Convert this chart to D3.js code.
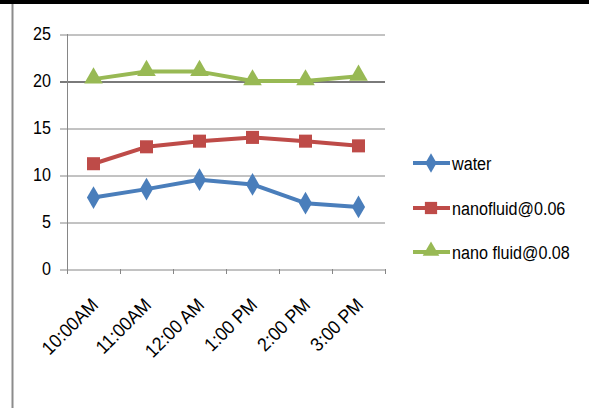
<!DOCTYPE html>
<html>
<head>
<meta charset="utf-8">
<script src="https://cdn.jsdelivr.net/npm/d3@7"></script>
<style>
  html, body { margin: 0; padding: 0; background: #fff; }
  svg { display: block; }
  text { font-family: "Liberation Sans", Arial, sans-serif; fill: #000; }
</style>
</head>
<body>
<svg id="chart" width="589" height="408"></svg>
<script>
// Time of day readings
const categories = ["10:00AM", "11:00AM", "12:00 AM", "1:00 PM", "2:00 PM", "3:00 PM"];
const water = [7.6, 8.5, 9.5, 9.0, 7.0, 6.6];
const nanofluid006 = [11.2, 13.0, 13.6, 14.0, 13.6, 13.1];
const nanofluid008 = [20.2, 21.0, 21.0, 20.0, 20.0, 20.5];
const yTicks = [0, 5, 10, 15, 20, 25];

const seriesNames = ["water", "nanofluid@0.06", "nano fluid@0.08"];
const seriesColors = ["#4a7ebb", "#be4b48", "#98b954"];
const seriesShapes = [d3.symbolDiamond, d3.symbolSquare, d3.symbolTriangle];
const seriesValues = [water, nanofluid006, nanofluid008];

const svg = d3.select("#chart");

// frame: black band on top, grey rule down the left side
svg.append("rect").attr("x", 0).attr("y", 0).attr("width", 589).attr("height", 4).attr("fill", "#000");
svg.append("line").attr("x1", 12.5).attr("x2", 12.5).attr("y1", 4).attr("y2", 408)
  .attr("stroke", "#8c8c8c").attr("stroke-width", 2);

const plot = { left: 67, right: 385, top: 34, bottom: 269 };

const x = d3.scaleBand().domain(categories).range([plot.left, plot.right]);
const y = d3.scaleLinear().domain([0, 25]).range([plot.bottom, plot.top]);

// horizontal gridlines with short ticks to the left of the axis
const yAxis = d3.axisLeft(y).tickValues(yTicks).tickSize(-(plot.right - plot.left + 7)).tickFormat("");
const gy = svg.append("g").attr("transform", `translate(${plot.left - 7},0)`).call(yAxis);
gy.select(".domain").remove();
gy.selectAll(".tick line").attr("stroke", "#868686").attr("stroke-width", 1)
  .attr("transform", "translate(0,0.5)");
gy.selectAll(".tick").filter(d => d === 20).select("line").attr("stroke", "#7a7a7a").attr("stroke-width", 2);

// value labels, set in a condensed face
svg.append("g").selectAll("text").data(yTicks).join("text")
  .attr("transform", d => `translate(51,${y(d)}) scale(0.85,1)`)
  .attr("text-anchor", "end").attr("dy", "0.34em").attr("font-size", 19)
  .text(d => d);

// vertical axis line
svg.append("line").attr("x1", plot.left + 0.5).attr("x2", plot.left + 0.5)
  .attr("y1", plot.top).attr("y2", plot.bottom).attr("stroke", "#868686");

// category axis: ticks at band boundaries, labels rotated
const edges = categories.map(c => x(c)).concat([plot.right]);
svg.append("g").selectAll("line").data(edges).join("line")
  .attr("x1", d => Math.round(d) + 0.5).attr("x2", d => Math.round(d) + 0.5)
  .attr("y1", plot.bottom).attr("y2", plot.bottom + 5).attr("stroke", "#868686");

svg.append("g").selectAll("text").data(categories).join("text")
  .attr("transform", d => `translate(${x(d) + x.bandwidth() / 2 + 6},${plot.bottom + 37}) rotate(-45) scale(0.93,1)`)
  .attr("text-anchor", "end")
  .attr("font-size", 19)
  .text(d => d);

// series lines and markers
const line = d3.line().x((d, i) => x(categories[i]) + x.bandwidth() / 2).y(d => y(d));

seriesValues.forEach((vals, s) => {
  const g = svg.append("g");
  g.append("path").datum(vals).attr("d", line)
    .attr("fill", "none").attr("stroke", seriesColors[s]).attr("stroke-width", 4)
    .attr("stroke-linejoin", "round").attr("stroke-linecap", "round");
  const size = s === 0 ? 150 : (s === 1 ? 170 : 150);
  g.selectAll("path.m").data(vals).join("path").attr("class", "m")
    .attr("d", d3.symbol().type(seriesShapes[s]).size(size))
    .attr("transform", (d, i) => `translate(${x(categories[i]) + x.bandwidth() / 2},${y(d) + (s === 2 ? -1 : 0)})`)
    .attr("fill", seriesColors[s]);
});

// legend
const legend = svg.append("g");
const legendY = [163, 208, 252];
seriesNames.forEach((name, s) => {
  const row = legend.append("g").attr("transform", `translate(0,${legendY[s]})`);
  row.append("line").attr("x1", 413).attr("x2", 450).attr("y1", 0).attr("y2", 0)
    .attr("stroke", seriesColors[s]).attr("stroke-width", 4);
  const size = s === 0 ? 110 : (s === 1 ? 150 : 120);
  row.append("path").attr("d", d3.symbol().type(seriesShapes[s]).size(size))
    .attr("transform", `translate(431,${s === 2 ? -1 : 0})`).attr("fill", seriesColors[s]);
  row.append("text").attr("transform", "translate(452,0) scale(0.85,1)").attr("dy", "0.35em")
    .attr("font-size", 19).text(name);
});
</script>
</body>
</html>
